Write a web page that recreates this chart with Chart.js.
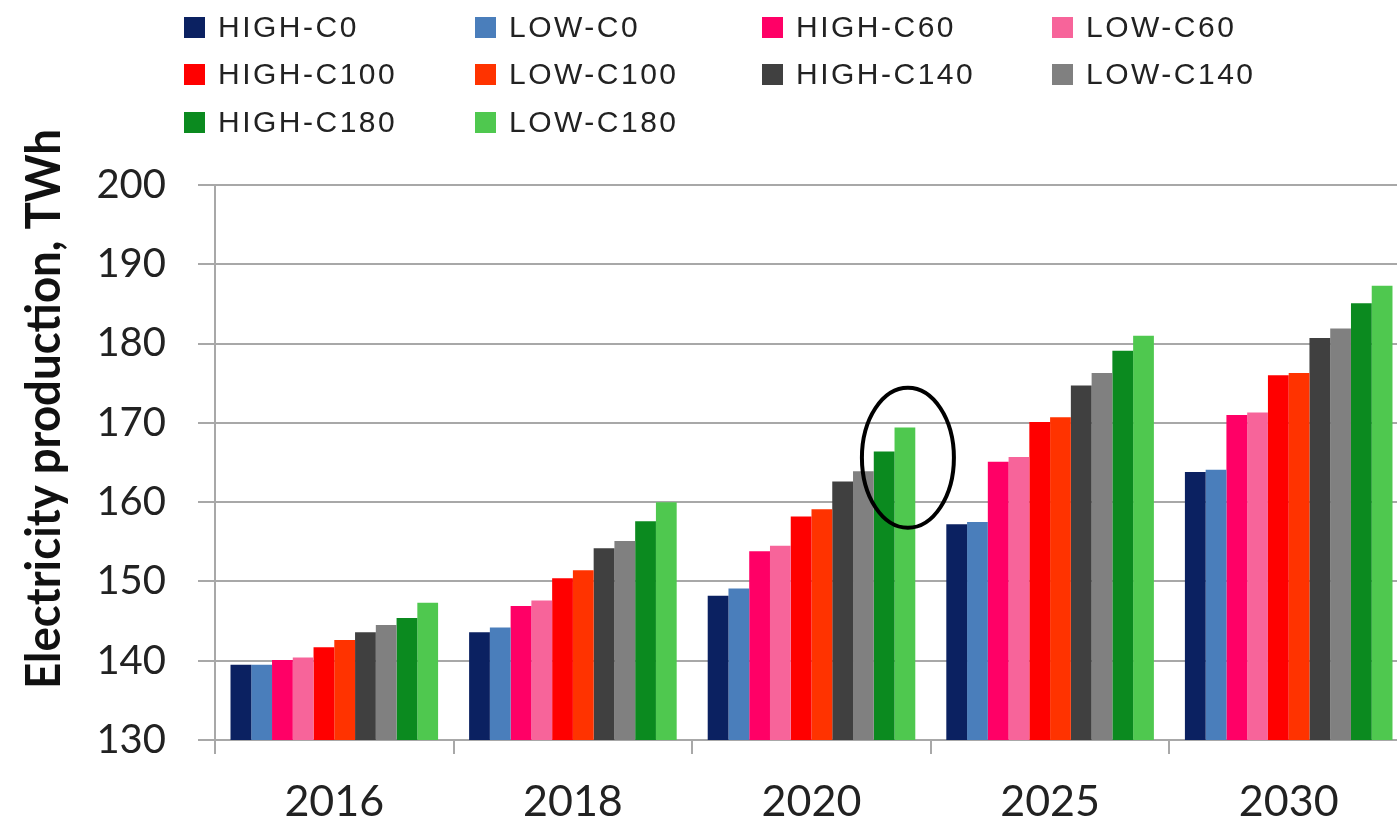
<!DOCTYPE html>
<html>
<head>
<meta charset="utf-8">
<title>Electricity production</title>
<script src="https://cdn.jsdelivr.net/npm/chart.js@4"></script>
<style>
    html, body { margin: 0; padding: 0; background: #fff; overflow: hidden; }
    #wrap { position: relative; width: 1412px; height: 821px; }
    #legend { position: absolute; left: 0; top: 0; width: 1397px; height: 150px; }
    .item { position: absolute; display: flex; align-items: center; font-family: 'Liberation Sans', Arial, sans-serif; font-size: 30px; letter-spacing: 2.5px; color: #222; white-space: nowrap; }
    .item span.box { display: inline-block; width: 21px; height: 21px; margin-right: 13px; }
</style>
</head>
<body>
<div id="wrap">
    <canvas id="chart"></canvas>
    <div id="legend"></div>
</div>
<script>
// categories
const years = ['2016', '2018', '2020', '2025', '2030'];

// series values, TWh
const highC0   = [139.5, 143.6, 148.2, 157.2, 163.8];
const lowC0    = [139.5, 144.2, 149.1, 157.5, 164.1];
const highC60  = [140.1, 146.9, 153.8, 165.1, 171.0];
const lowC60   = [140.4, 147.6, 154.5, 165.7, 171.3];
const highC100 = [141.7, 150.4, 158.2, 170.1, 176.0];
const lowC100  = [142.6, 151.4, 159.1, 170.7, 176.3];
const highC140 = [143.6, 154.2, 162.6, 174.7, 180.7];
const lowC140  = [144.5, 155.1, 163.9, 176.3, 181.9];
const highC180 = [145.4, 157.6, 166.4, 179.1, 185.1];
const lowC180  = [147.3, 160.0, 169.4, 181.0, 187.3];

const seriesNames = ['HIGH-C0', 'LOW-C0', 'HIGH-C60', 'LOW-C60', 'HIGH-C100',
                     'LOW-C100', 'HIGH-C140', 'LOW-C140', 'HIGH-C180', 'LOW-C180'];
const seriesData = [highC0, lowC0, highC60, lowC60, highC100,
                    lowC100, highC140, lowC140, highC180, lowC180];
const seriesColors = ['#0b2161', '#4a7ebb', '#ff0066', '#f7649a', '#ff0000',
                      '#ff3300', '#404040', '#808080', '#0b8a1f', '#4fc84f'];

// y axis ticks
const yMin = 130;
const yMax = 200;
const yStep = 10;

// circled bars: 2020, HIGH/LOW-C180
const circleYear = 2;
const circleValue = 165.6;

const axisTitle = 'Electricity production, TWh';
const gridColor = '#a8a8a8';

// HTML legend, 4 columns
const legendCols = [184, 475, 762, 1052];
const legendRows = [27, 74, 122];
const legendEl = document.getElementById('legend');
seriesNames.forEach(function(name, i) {
    const item = document.createElement('div');
    item.className = 'item';
    item.style.left = legendCols[i % 4] + 'px';
    item.style.top = (legendRows[Math.floor(i / 4)] - 18) + 'px';
    item.style.height = '36px';
    item.innerHTML = '<span class="box" style="background:' + seriesColors[i] + '"></span>' + name;
    legendEl.appendChild(item);
});

// ellipse round the 2020 C180 bars
const ellipseMark = {
    id: 'ellipseMark',
    afterDatasetsDraw(chart) {
        const bar = chart.getDatasetMeta(9).data[circleYear];
        const y = chart.scales.y.getPixelForValue(circleValue);
        const ctx = chart.ctx;
        ctx.save();
        ctx.beginPath();
        ctx.ellipse(bar.x + 3, y, 46, 70, 0, 0, Math.PI * 2);
        ctx.lineWidth = 4;
        ctx.strokeStyle = '#000';
        ctx.stroke();
        ctx.restore();
    }
};

// vertical axis title, fitted to the reference length
const sideTitle = {
    id: 'sideTitle',
    afterDraw(chart) {
        const ctx = chart.ctx;
        ctx.save();
        ctx.font = 'bold 48px Lato, sans-serif';
        const w = ctx.measureText(axisTitle).width;
        ctx.translate(60, 409);
        ctx.rotate(-Math.PI / 2);
        ctx.scale(560 / w, 1);
        ctx.fillStyle = '#111';
        ctx.textAlign = 'center';
        ctx.textBaseline = 'alphabetic';
        ctx.fillText(axisTitle, 0, 0);
        ctx.restore();
    }
};

const ctx = document.getElementById('chart');
new Chart(ctx, {
    type: 'bar',
    data: {
        labels: years,
        datasets: seriesNames.map(function(name, i) {
            return {
                label: name,
                data: seriesData[i],
                backgroundColor: seriesColors[i],
                borderWidth: 0,
                categoryPercentage: 0.87,
                barPercentage: 1.0
            };
        })
    },
    options: {
        responsive: true,
        maintainAspectRatio: false,
        animation: false,
        layout: { padding: { top: 185, right: 4, left: 0, bottom: 0 } },
        plugins: {
            legend: { display: false },
            tooltip: { enabled: false }
        },
        scales: {
            x: {
                grid: {
                    drawOnChartArea: false,
                    drawTicks: true,
                    tickLength: 14,
                    color: gridColor,
                    lineWidth: 2
                },
                border: { color: gridColor, width: 2 },
                ticks: {
                    font: { family: 'Lato', size: 43 },
                    color: '#222',
                    padding: 22
                },
                afterFit: function(axis) { axis.height = 81; }
            },
            y: {
                min: yMin,
                max: yMax,
                grid: {
                    color: gridColor,
                    lineWidth: 2,
                    tickLength: 17
                },
                border: { color: gridColor, width: 2 },
                ticks: {
                    stepSize: yStep,
                    font: { family: 'Lato', size: 40 },
                    color: '#222',
                    padding: 32
                },
                afterFit: function(axis) { axis.width = 215; }
            }
        }
    },
    plugins: [ellipseMark, sideTitle]
});
</script>
</body>
</html>
